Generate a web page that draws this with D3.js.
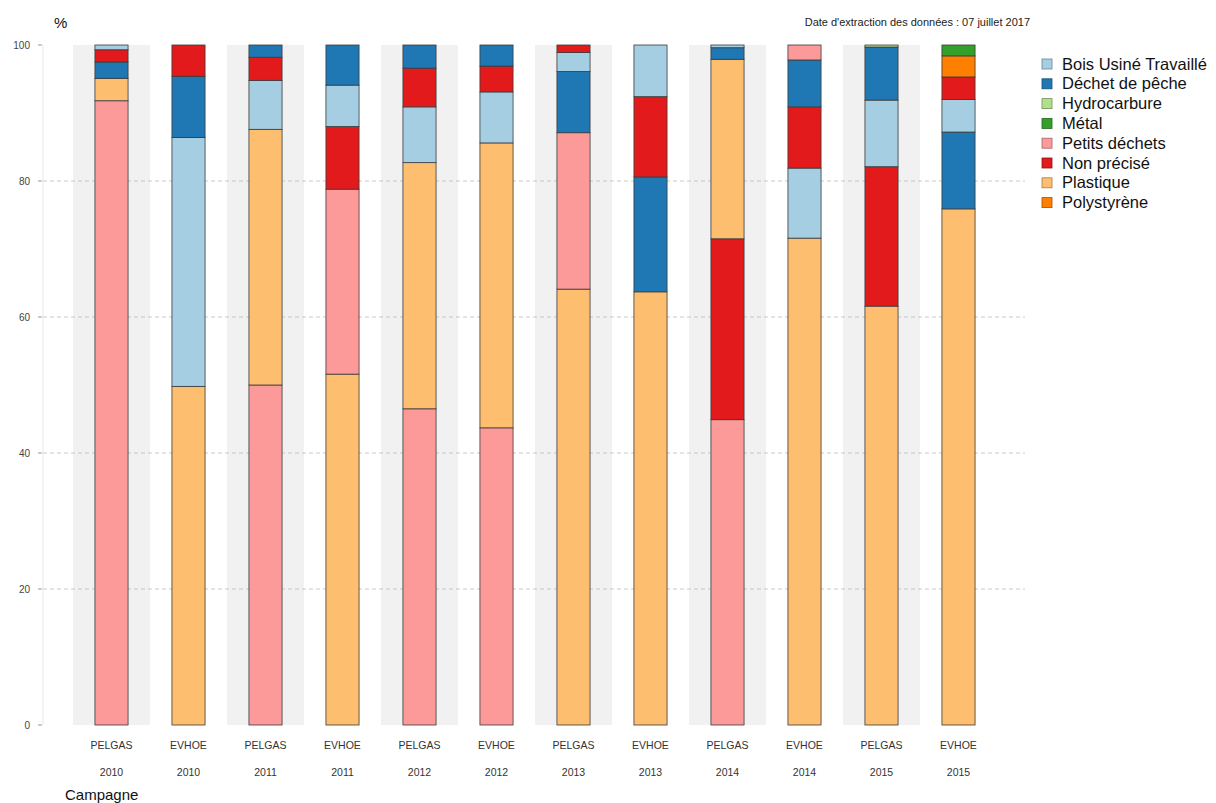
<!DOCTYPE html>
<html>
<head>
<meta charset="utf-8">
<script src="https://cdn.jsdelivr.net/npm/d3@7"></script>
<style>
  body { margin: 0; background: #fff; }
  svg { display: block; font-family: Arial, "Liberation Sans", sans-serif; }
</style>
</head>
<body>
<svg id="chart" width="1216" height="803"></svg>
<script>
const categories = ['Bois Usiné Travaillé', 'Déchet de pêche', 'Hydrocarbure', 'Métal',
  'Petits déchets', 'Non précisé', 'Plastique', 'Polystyrène']
const colors = ['#a6cee3', '#1f78b4', '#b2df8a', '#33a02c', '#fb9a99', '#e31a1c', '#fdbf6f', '#ff7f00']

const campagnes = ['PELGAS', 'EVHOE', 'PELGAS', 'EVHOE', 'PELGAS', 'EVHOE',
  'PELGAS', 'EVHOE', 'PELGAS', 'EVHOE', 'PELGAS', 'EVHOE']
const years = ['2010', '2010', '2011', '2011', '2012', '2012',
  '2013', '2013', '2014', '2014', '2015', '2015']

// pourcentages par catégorie, une valeur par campagne
const bois = [0.7, 36.6, 7.2, 6.1, 8.2, 7.5, 2.8, 7.6, 0.4, 10.3, 9.8, 4.8]
const dechetPeche = [2.4, 9.0, 1.8, 5.9, 3.4, 3.1, 9.0, 16.9, 1.7, 6.9, 7.8, 11.3]
const hydrocarbure = [0, 0, 0, 0, 0, 0, 0, 0, 0, 0, 0.3, 0]
const metal = [0, 0, 0, 0, 0, 0, 0, 0, 0, 0, 0, 1.6]
const petits = [91.8, 0, 50.0, 27.2, 46.5, 43.7, 23.0, 0, 44.9, 2.2, 0, 0]
const nonPrecise = [1.8, 4.6, 3.4, 9.2, 5.7, 3.8, 1.1, 11.8, 26.6, 9.0, 20.5, 3.3]
const plastique = [3.3, 49.8, 37.6, 51.6, 36.2, 41.9, 64.1, 63.7, 26.4, 71.6, 61.6, 75.9]
const polystyrene = [0, 0, 0, 0, 0, 0, 0, 0, 0, 0, 0, 3.1]

const series = [bois, dechetPeche, hydrocarbure, metal, petits, nonPrecise, plastique, polystyrene]
const yTicks = [0, 20, 40, 60, 80, 100]

const svg = d3.select('#chart')
const plotLeft = 43, plotRight = 1025, plotTop = 45, plotBottom = 725

const x = d3.scaleBand()
  .domain(d3.range(campagnes.length))
  .range([73, 73 + 77 * campagnes.length])
  .paddingInner(0.57)
  .paddingOuter(0.285)
const y = d3.scaleLinear().domain([0, 100]).range([plotBottom, plotTop])
const color = d3.scaleOrdinal().domain(categories).range(colors)

// bandes grises derrière les campagnes PELGAS
svg.append('g')
  .selectAll('rect')
  .data(d3.range(campagnes.length).filter(i => campagnes[i] === 'PELGAS'))
  .join('rect')
  .attr('x', i => x(i) - x.step() * x.paddingInner() / 2)
  .attr('width', x.step())
  .attr('y', plotTop)
  .attr('height', plotBottom - plotTop)
  .attr('fill', '#f1f1f1')

// grille
svg.append('g')
  .selectAll('line')
  .data(yTicks.filter(t => t > 0 && t < 100))
  .join('line')
  .attr('x1', plotLeft).attr('x2', plotRight)
  .attr('y1', d => y(d)).attr('y2', d => y(d))
  .attr('stroke', '#bbbbbb')
  .attr('stroke-dasharray', '4,3')
  .attr('stroke-width', 0.8)

// axe y
svg.append('line')
  .attr('x1', plotLeft).attr('x2', plotLeft)
  .attr('y1', plotTop).attr('y2', plotBottom)
  .attr('stroke', '#e8e8e8')
const yAxis = svg.append('g')
yAxis.selectAll('line')
  .data(yTicks)
  .join('line')
  .attr('x1', plotLeft - 5).attr('x2', plotLeft - 1)
  .attr('y1', d => y(d)).attr('y2', d => y(d))
  .attr('stroke', '#999')
yAxis.selectAll('text')
  .data(yTicks)
  .join('text')
  .attr('x', 30)
  .attr('y', d => y(d) + 3.5)
  .attr('text-anchor', 'end')
  .attr('font-size', 10)
  .attr('fill', '#444')
  .text(d => d)

// barres empilées, triées par valeur décroissante depuis le bas
const stacks = campagnes.map((c, i) => {
  let parts = categories.map((cat, k) => ({ cat, value: series[k][i] }))
    .filter(p => p.value > 0)
  parts = d3.sort(parts, (a, b) => b.value - a.value)
  let acc = 0
  return parts.map(p => {
    let seg = { i, cat: p.cat, y0: acc, y1: acc + p.value }
    acc += p.value
    return seg
  })
})

svg.append('g')
  .selectAll('g')
  .data(stacks)
  .join('g')
  .selectAll('rect')
  .data(d => d)
  .join('rect')
  .attr('x', d => x(d.i))
  .attr('width', x.bandwidth())
  .attr('y', d => y(d.y1))
  .attr('height', d => y(d.y0) - y(d.y1))
  .attr('fill', d => color(d.cat))
  .attr('stroke', '#3a3a3a')
  .attr('stroke-width', 0.8)

// étiquettes x
const xLab = svg.append('g')
xLab.selectAll('text.camp')
  .data(campagnes)
  .join('text')
  .attr('class', 'camp')
  .attr('x', (d, i) => x(i) + x.bandwidth() / 2)
  .attr('y', 749)
  .attr('text-anchor', 'middle')
  .attr('font-size', 10.5)
  .attr('fill', '#333')
  .text(d => d)
xLab.selectAll('text.year')
  .data(years)
  .join('text')
  .attr('class', 'year')
  .attr('x', (d, i) => x(i) + x.bandwidth() / 2)
  .attr('y', 776)
  .attr('text-anchor', 'middle')
  .attr('font-size', 10.5)
  .attr('fill', '#333')
  .text(d => d)

svg.append('text')
  .attr('x', 65).attr('y', 800)
  .attr('font-size', 15)
  .attr('fill', '#111')
  .text('Campagne')

svg.append('text')
  .attr('x', 54).attr('y', 28)
  .attr('font-size', 15)
  .attr('fill', '#111')
  .text('%')

svg.append('text')
  .attr('x', 1030).attr('y', 26)
  .attr('text-anchor', 'end')
  .attr('font-size', 11)
  .attr('fill', '#222')
  .text("Date d'extraction des données : 07 juillet 2017")

// légende
const legend = svg.append('g')
  .selectAll('g')
  .data(categories)
  .join('g')
  .attr('transform', (d, i) => `translate(1042,${59 + i * 19.8})`)
legend.append('rect')
  .attr('width', 10).attr('height', 10)
  .attr('fill', d => color(d))
  .attr('stroke', d => d3.color(color(d)).darker(1.2))
  .attr('stroke-width', 0.8)
legend.append('text')
  .attr('x', 20).attr('y', 10.5)
  .attr('font-size', 16.5)
  .attr('fill', '#111')
  .text(d => d)
</script>
</body>
</html>
